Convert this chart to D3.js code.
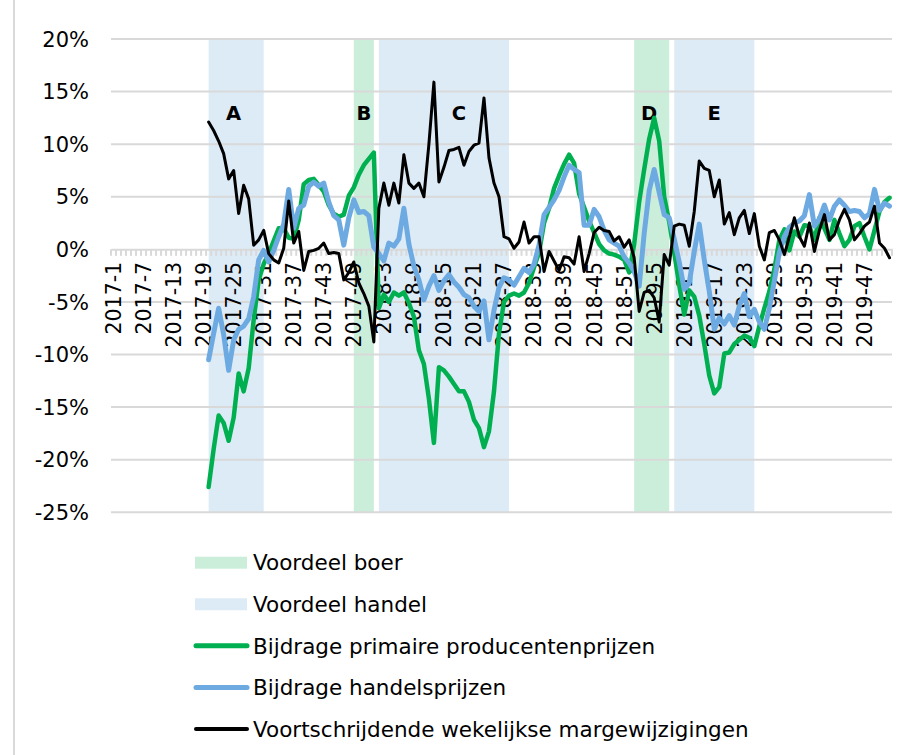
<!DOCTYPE html>
<html>
<head>
<meta charset="utf-8">
<script src="https://cdn.jsdelivr.net/npm/d3@7"></script>
<style>
  body { margin: 0; background: #fff; }
  svg { display: block; }
  text { font-family: Verdana, "DejaVu Sans", sans-serif; fill: #000; }
</style>
</head>
<body>
<svg id="chart" width="901" height="755"></svg>
<script>
// Week categories 2017-1 ... 2019-52
const years = [2017, 2018, 2019];
const weeksPerYear = 52;
const weeks = years.flatMap(yr => d3.range(1, weeksPerYear + 1).map(w => `${yr}-${w}`));

// The series start in week 2017-20
const firstDataWeek = "2017-20";

// Bijdrage primaire producentenprijzen (%)
const producerValues = [
  -22.6, -19.0, -15.8, -16.5, -18.2, -16.0, -11.8, -13.5, -11.3, -6.7,
  -2.9, -1.4, -0.4, 0.8, 2.0, 2.0, 1.1, 1.0, 2.8, 6.2,
  6.6, 6.7, 6.1, 5.5, 4.2, 3.4, 3.1, 3.3, 5.1, 5.9,
  7.1, 8.0, 8.6, 9.2, -5.6, -4.3, -5.0, -4.1, -4.4, -4.1,
  -5.1, -6.4, -9.6, -10.9, -14.2, -18.4, -11.2, -11.5, -12.1, -12.8,
  -13.5, -13.5, -14.5, -16.2, -17.0, -18.8, -17.3, -13.5, -8.0, -5.0,
  -4.4, -4.2, -4.4, -4.1, -3.2, -1.7, -0.3, 2.5, 3.9, 5.8,
  7.0, 8.1, 9.0, 8.2, 5.3, 4.0, 2.7, 1.6, 0.5, -0.1,
  -0.4, -0.5, -0.7, -1.0, -2.2, 0.5, 4.5, 7.6, 10.5, 12.5,
  10.3, 5.0, 2.6, -0.3, -3.4, -6.2, -3.9, -4.5, -6.3, -9.0,
  -12.0, -13.7, -13.1, -9.9, -9.8, -9.0, -8.6, -8.2, -8.4, -9.2,
  -7.3, -5.6, -4.0, -1.9, 0.9, 1.9, -0.1, 1.7, 1.2, 2.3,
  2.2, 0.9, 3.0, 2.0, 0.9, 2.8, 1.5, 0.3, 0.9, 2.2,
  2.5, 1.2, 0.0, 1.8, 3.6, 4.5, 4.9
];

// Bijdrage handelsprijzen (%)
const tradeValues = [
  -10.5, -8.0, -5.6, -8.1, -11.5, -8.6, -7.6, -7.3, -6.6, -4.5,
  -1.0, -0.1, -1.2, -0.1, 1.2, 2.4, 5.7, 2.0, 3.9, 4.2,
  6.0, 6.4, 6.0, 6.3, 4.5, 3.2, 2.8, 0.4, 3.0, 4.7,
  3.5, 3.6, 3.2, 0.2, -0.4, -1.1, 0.6, 0.3, 1.0, 3.9,
  0.5, -1.6, -2.9, -4.8, -3.5, -2.5, -3.9, -3.0, -2.4, -3.1,
  -3.6, -4.3, -4.6, -5.4, -5.9, -4.9, -8.6, -5.8, -3.6, -2.7,
  -2.9, -3.4, -2.6, -1.8, -2.2, -1.4, 0.4, 3.3, 4.0, 4.7,
  5.6, 6.9, 8.0, 7.6, 7.3, 2.3, 2.3, 3.8, 3.1, 1.8,
  0.9, 0.6, 0.3, -0.7, -1.3, -2.1, -3.5, 1.5, 5.6, 7.6,
  5.4, 3.3, 3.0, 1.0, -1.2, -3.8, -3.2, -0.2, 2.4, -1.0,
  -4.0, -7.6, -6.5, -7.1, -6.3, -7.2, -5.4, -4.2, -6.4, -5.7,
  -6.9, -7.6, -5.6, -3.0, -0.3, 1.2, 2.1, 2.5, 2.7, 3.2,
  5.2, 2.2, 2.9, 4.2, 2.8, 4.1, 4.7, 4.2, 3.6, 3.7,
  3.6, 3.0, 3.4, 5.7, 3.7, 4.4, 4.1
];

// Voortschrijdende wekelijkse margewijzigingen (%)
const marginValues = [
  12.1, 11.3, 10.3, 9.1, 6.7, 7.5, 3.4, 6.1, 4.8, 0.4,
  0.9, 1.8, -0.4, -1.0, -1.3, 0.1, 4.6, 0.6, 1.7, -2.0,
  -0.2, -0.1, 0.1, 0.6, -0.4, -0.3, -0.4, -2.9, -2.2, -1.2,
  -3.2, -4.2, -5.4, -8.8, 3.9, 6.3, 4.2, 6.3, 4.4, 9.0,
  6.3, 5.8, 6.3, 5.0, 10.0, 15.9, 6.4, 7.8, 9.4, 9.5,
  9.7, 8.0, 9.3, 9.9, 10.1, 14.4, 8.7, 6.3, 5.0, 1.2,
  1.0, 0.1, 0.7, 2.6, 0.6, 1.2, 1.2, -2.1, -0.2, -1.1,
  -2.0, -0.7, -0.8, -1.4, 1.2, -2.1, -0.4, 1.6, 2.1, 1.8,
  1.7, 0.8, 1.2, 0.2, 0.9, -0.8, -5.9, -4.1, -3.9, -4.6,
  -6.9, -0.5, -1.5, 2.2, 2.4, 2.3, 0.3, 3.6, 8.4, 7.7,
  7.5, 5.0, 6.6, 2.4, 3.5, 1.4, 3.0, 3.7, 1.5, 3.4,
  0.3, -1.0, 1.6, 1.8, 0.9, -0.5, 1.2, 3.0, 1.2, 0.3,
  2.5, -0.2, 1.8, 3.3, 0.9, 1.4, 2.8, 3.8, 2.8, 0.9,
  1.5, 2.2, 2.6, 4.1, 0.6, 0.1, -0.8
];

// Value axis ticks (%)
const yTicks = [20, 15, 10, 5, 0, -5, -10, -15, -20, -25];

// Periods in which the margin shift favours the farmer ("boer") or the trade ("handel")
const periodStart = ["2017-20", "2017-49", "2018-2", "2019-1", "2019-9"];
const periodEnd   = ["2017-31", "2018-1", "2018-28", "2019-8", "2019-25"];
const periodKind  = ["handel", "boer", "handel", "boer", "handel"];
const periodLabel = ["A", "B", "C", "D", "E"];
const periodLabelWeek = ["2017-25", "2017-51", "2018-18", "2019-4", "2019-17"];

const legendLabels = [
  "Voordeel boer",
  "Voordeel handel",
  "Bijdrage primaire producentenprijzen",
  "Bijdrage handelsprijzen",
  "Voortschrijdende wekelijkse margewijzigingen"
];

const colors = {
  boer: "#cbeedb",
  handel: "#ddebf7",
  producer: "#00b050",
  trade: "#6eaae2",
  margin: "#000000",
  grid: "#d9d9d9"
};

const svg = d3.select("#chart");

const plot = { left: 111, right: 892, top: 39, bottom: 512.3 };

const x = d3.scaleBand().domain(weeks).range([plot.left, plot.right]).paddingInner(0).paddingOuter(0);
const bw = x.bandwidth();
const cx = w => x(w) + bw / 2;
const y = d3.scaleLinear().domain([-25, 20]).range([plot.bottom, plot.top]);

// chart frame (left edge)
svg.append("line")
  .attr("x1", 14).attr("x2", 14).attr("y1", 0).attr("y2", 755)
  .attr("stroke", colors.grid).attr("stroke-width", 2);

// shaded periods
svg.append("g").selectAll("rect")
  .data(periodStart.map((s, i) => ({ s, e: periodEnd[i], kind: periodKind[i] })))
  .join("rect")
  .attr("x", d => cx(d.s))
  .attr("width", d => cx(d.e) - cx(d.s))
  .attr("y", y(20))
  .attr("height", y(-25) - y(20))
  .attr("fill", d => colors[d.kind]);

// horizontal gridlines
svg.append("g").selectAll("line")
  .data(yTicks.filter(t => t !== 0))
  .join("line")
  .attr("x1", plot.left).attr("x2", plot.right)
  .attr("y1", d => y(d)).attr("y2", d => y(d))
  .attr("stroke", colors.grid).attr("stroke-width", 2);

// value axis labels
svg.append("g").selectAll("text")
  .data(yTicks)
  .join("text")
  .attr("x", 89)
  .attr("y", d => y(d))
  .attr("dy", "0.36em")
  .attr("text-anchor", "end")
  .style("font-size", "21px")
  .text(d => `${d}%`);

// category axis at 0%
const y0 = y(0);
const xAxis = d3.axisBottom(x)
  .tickValues(weeks.filter((w, i) => i % 6 === 0))
  .tickSize(0)
  .tickPadding(0);
const gx = svg.append("g").attr("transform", `translate(0,${y0})`).call(xAxis);
gx.select(".domain").attr("stroke", colors.grid).attr("stroke-width", 2);
gx.selectAll(".tick text")
  .attr("transform", "translate(0,12.5) rotate(-90)")
  .attr("x", 0).attr("y", 0)
  .attr("dy", "0.36em")
  .attr("text-anchor", "end")
  .style("font-size", "20.5px")
  .style("font-family", 'Verdana, "DejaVu Sans", sans-serif')
  .attr("fill", "#000");

// minor tick marks at every week boundary
svg.append("g").selectAll("line")
  .data(d3.range(weeks.length + 1))
  .join("line")
  .attr("x1", i => plot.left + i * bw).attr("x2", i => plot.left + i * bw)
  .attr("y1", y0).attr("y2", y0 + 6.5)
  .attr("stroke", colors.grid).attr("stroke-width", 2);

// period letters
svg.append("g").selectAll("text")
  .data(periodLabel.map((l, i) => ({ l, w: periodLabelWeek[i] })))
  .join("text")
  .attr("x", d => cx(d.w))
  .attr("y", 119.5)
  .attr("text-anchor", "middle")
  .style("font-size", "19.5px")
  .style("font-weight", "bold")
  .text(d => d.l);

// series lines
const start = weeks.indexOf(firstDataWeek);
const toPoints = vals => vals.map((v, i) => ({ w: weeks[start + i], v }));
const line = d3.line().x(d => cx(d.w)).y(d => y(d.v));

const series = [
  { vals: producerValues, color: colors.producer, width: 4.5 },
  { vals: tradeValues, color: colors.trade, width: 5 },
  { vals: marginValues, color: colors.margin, width: 3 }
];
svg.append("g").selectAll("path")
  .data(series)
  .join("path")
  .attr("d", d => line(toPoints(d.vals)))
  .attr("fill", "none")
  .attr("stroke", d => d.color)
  .attr("stroke-width", d => d.width)
  .attr("stroke-linejoin", "round")
  .attr("stroke-linecap", "round");

// legend
const legendY = d3.scaleLinear().domain([0, 4]).range([562.7, 729]);
const legendItems = [
  { type: "rect", color: colors.boer },
  { type: "rect", color: colors.handel },
  { type: "line", color: colors.producer, width: 5 },
  { type: "line", color: colors.trade, width: 5 },
  { type: "line", color: colors.margin, width: 4 }
].map((d, i) => ({ ...d, label: legendLabels[i], i }));

const lg = svg.append("g").selectAll("g")
  .data(legendItems)
  .join("g")
  .attr("transform", d => `translate(0,${legendY(d.i)})`);

lg.filter(d => d.type === "rect").append("rect")
  .attr("x", 195).attr("y", -6).attr("width", 52).attr("height", 12)
  .attr("fill", d => d.color);

lg.filter(d => d.type === "line").append("line")
  .attr("x1", 196).attr("x2", 247).attr("y1", 0).attr("y2", 0)
  .attr("stroke", d => d.color)
  .attr("stroke-width", d => d.width)
  .attr("stroke-linecap", "round");

lg.append("text")
  .attr("x", 253).attr("y", 0).attr("dy", "0.36em")
  .style("font-size", "21.5px")
  .text(d => d.label);
</script>
</body>
</html>
